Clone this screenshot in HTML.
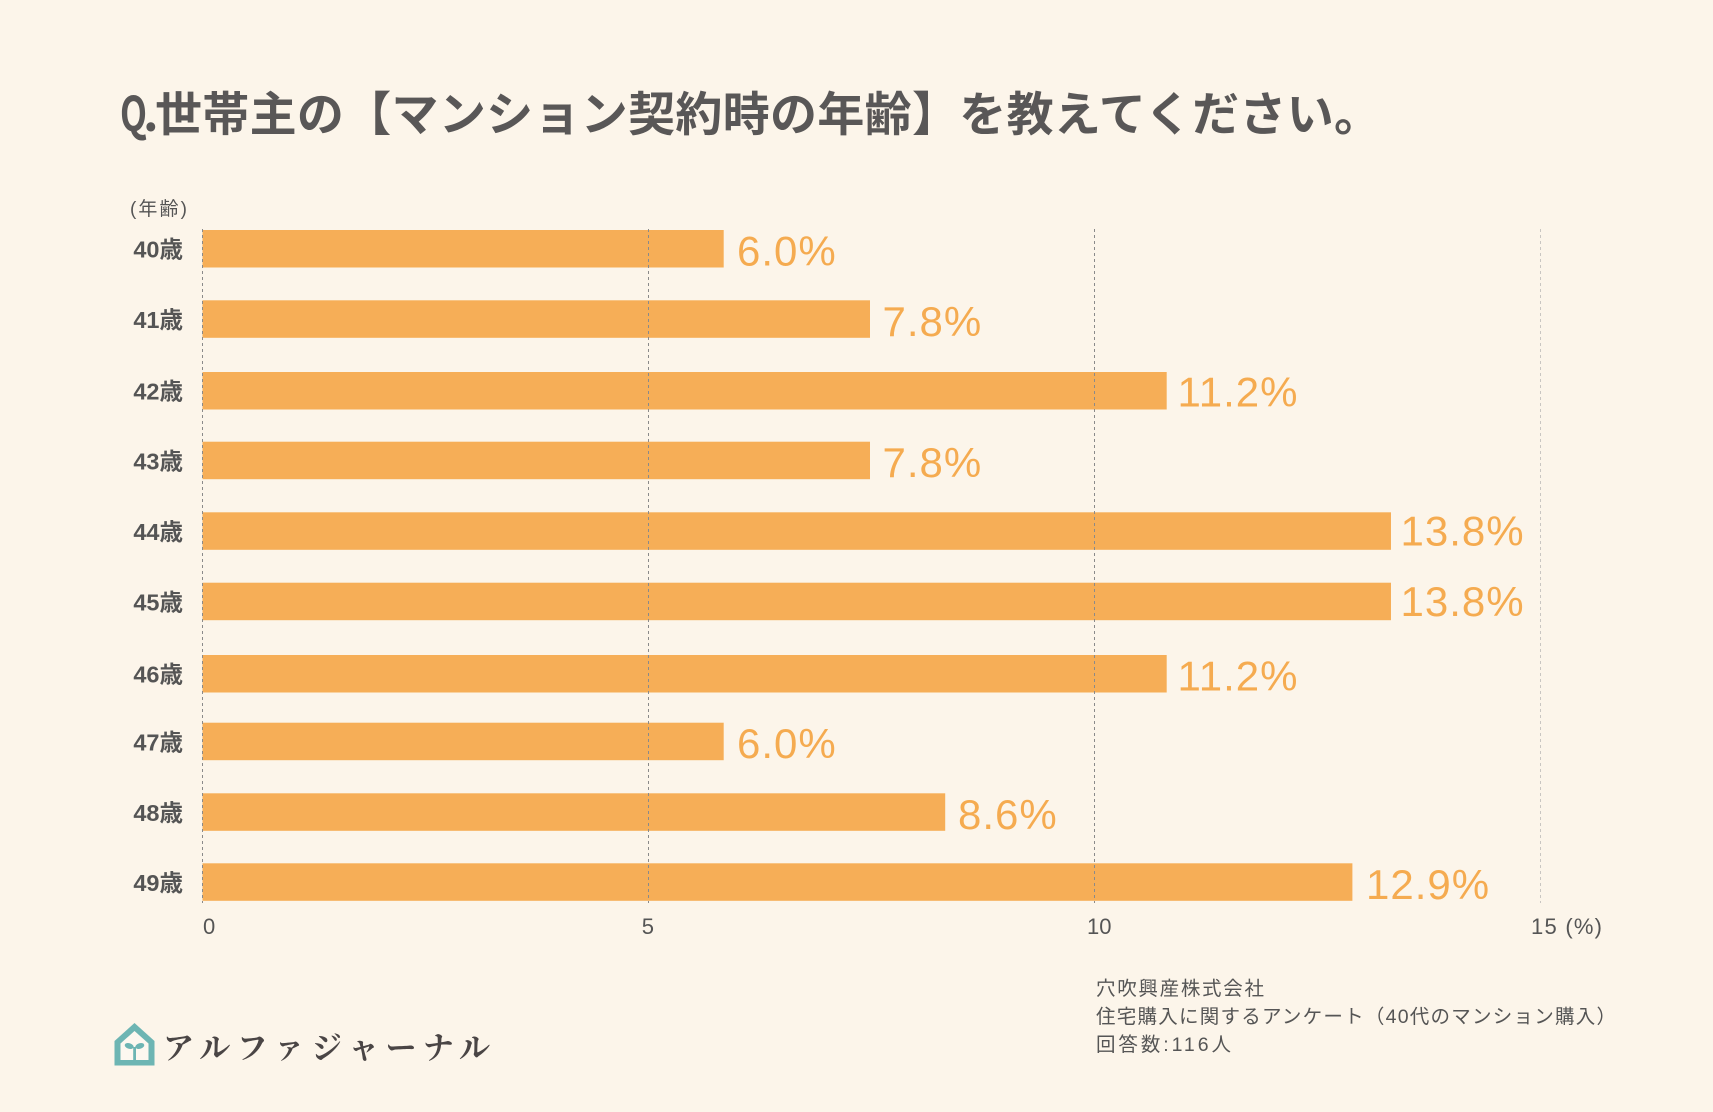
<!DOCTYPE html>
<html lang="ja">
<head>
<meta charset="utf-8">
<style>
  html, body { margin:0; padding:0; background:#FCF5EA; }
  body { width:1713px; height:1112px; overflow:hidden; }
  svg { display:block; }
</style>
</head>
<body>
<svg width="1713" height="1112" viewBox="0 0 1713 1112" xmlns="http://www.w3.org/2000/svg">
  <rect x="0" y="0" width="1713" height="1112" fill="#FCF5EA"/>

  <!-- Title -->
  <text x="120" y="131" font-family="'Noto Sans CJK JP', 'Liberation Sans', sans-serif" font-weight="bold" font-size="48" fill="#595757" textLength="27" lengthAdjust="spacingAndGlyphs">Q</text>
  <text x="143" y="131" font-family="'Noto Sans CJK JP', 'Liberation Sans', sans-serif" font-weight="bold" font-size="48" fill="#595757">.</text>
  <text x="155" y="131" font-family="'Noto Sans CJK JP', sans-serif" font-weight="bold" font-size="47" fill="#595757" textLength="1226" lengthAdjust="spacing">世帯主の【マンション契約時の年齢】を教えてください。</text>

  <!-- axis unit label -->
  <text x="130" y="215" font-family="'Liberation Sans', 'Noto Sans CJK JP', sans-serif" font-size="19" fill="#555555" textLength="57" lengthAdjust="spacing">(年齢)</text>

  <!-- Bars -->
  <g fill="#F6AE57">
    <rect x="202.5" y="230"   width="521.2"  height="37.5"/>
    <rect x="202.5" y="300.3" width="667.5"  height="37.5"/>
    <rect x="202.5" y="372"   width="964.2"  height="37.5"/>
    <rect x="202.5" y="441.7" width="667.5"  height="37.5"/>
    <rect x="202.5" y="512.3" width="1188.5" height="37.5"/>
    <rect x="202.5" y="582.7" width="1188.5" height="37.5"/>
    <rect x="202.5" y="655"   width="964.2"  height="37.5"/>
    <rect x="202.5" y="722.7" width="521.2"  height="37.5"/>
    <rect x="202.5" y="793.3" width="742.7"  height="37.5"/>
    <rect x="202.5" y="863.3" width="1149.9" height="37.5"/>
  </g>

  <!-- Grid lines (drawn over bars) -->
  <g stroke-width="1" stroke-dasharray="3 3" fill="none">
    <line x1="202.5" y1="229" x2="202.5" y2="903" stroke="#8a8a8a"/>
    <line x1="648.5" y1="229" x2="648.5" y2="903" stroke="#8a8a8a"/>
    <line x1="1094.5" y1="229" x2="1094.5" y2="903" stroke="#8a8a8a"/>
    <line x1="1540.5" y1="229" x2="1540.5" y2="903" stroke="#c9c6c2"/>
  </g>

  <!-- Y labels -->
  <g font-family="'Liberation Sans', 'Noto Sans CJK JP', sans-serif" font-weight="bold" font-size="23.5" fill="#555555" text-anchor="end">
    <text x="183" y="257.7">40歳</text>
    <text x="183" y="328">41歳</text>
    <text x="183" y="399.7">42歳</text>
    <text x="183" y="469.4">43歳</text>
    <text x="183" y="540">44歳</text>
    <text x="183" y="610.4">45歳</text>
    <text x="183" y="682.7">46歳</text>
    <text x="183" y="750.4">47歳</text>
    <text x="183" y="821">48歳</text>
    <text x="183" y="891">49歳</text>
  </g>

  <!-- Value labels -->
  <g font-family="'Liberation Sans', sans-serif" font-size="42" fill="#F5AB50" letter-spacing="1">
    <text x="737"    y="265.5">6.0%</text>
    <text x="882.5"  y="335.8">7.8%</text>
    <text x="1177.5" y="406.5">11.2%</text>
    <text x="882.5"  y="477.2">7.8%</text>
    <text x="1400.5" y="545.5">13.8%</text>
    <text x="1400.5" y="616">13.8%</text>
    <text x="1177.5" y="690.5">11.2%</text>
    <text x="737"    y="758.2">6.0%</text>
    <text x="958"    y="828.8">8.6%</text>
    <text x="1366"   y="898.8">12.9%</text>
  </g>

  <!-- X tick labels -->
  <g font-family="'Liberation Sans', sans-serif" font-size="22" fill="#555555">
    <text x="203" y="934">0</text>
    <text x="641.7" y="934">5</text>
    <text x="1087" y="934">10</text>
    <text x="1531" y="934" textLength="71" lengthAdjust="spacing">15 (%)</text>
  </g>

  <!-- Footer source text -->
  <g font-family="'Liberation Sans', 'Noto Sans CJK JP', sans-serif" font-size="19.5" fill="#555555">
    <text x="1096" y="995" textLength="168" lengthAdjust="spacing">穴吹興産株式会社</text>
    <text x="1096" y="1023" textLength="520" lengthAdjust="spacing">住宅購入に関するアンケート（40代のマンション購入）</text>
    <text x="1096" y="1051" textLength="135" lengthAdjust="spacing">回答数:116人</text>
  </g>

  <!-- Logo -->
  <g>
    <polygon points="114.5,1041 134.5,1023 154.5,1041 154.5,1065.5 114.5,1065.5" fill="#6DB5B3"/>
    <polygon points="120.5,1043.5 134.5,1031 148.5,1043.5 148.5,1060 120.5,1060" fill="#FDF8F0"/>
    <rect x="133.2" y="1047" width="2.8" height="14" fill="#6DB5B3"/>
    <ellipse cx="129.2" cy="1046" rx="4.6" ry="2.8" fill="#6DB5B3" transform="rotate(18 129.2 1046)"/>
    <ellipse cx="139.8" cy="1046" rx="4.6" ry="2.8" fill="#6DB5B3" transform="rotate(-18 139.8 1046)"/>
  </g>
  <text x="163" y="1059" font-family="'Noto Serif CJK SC', 'Noto Serif CJK JP', serif" font-weight="bold" font-size="31" fill="#4a4545" textLength="327" lengthAdjust="spacing">アルファジャーナル</text>
</svg>
</body>
</html>
